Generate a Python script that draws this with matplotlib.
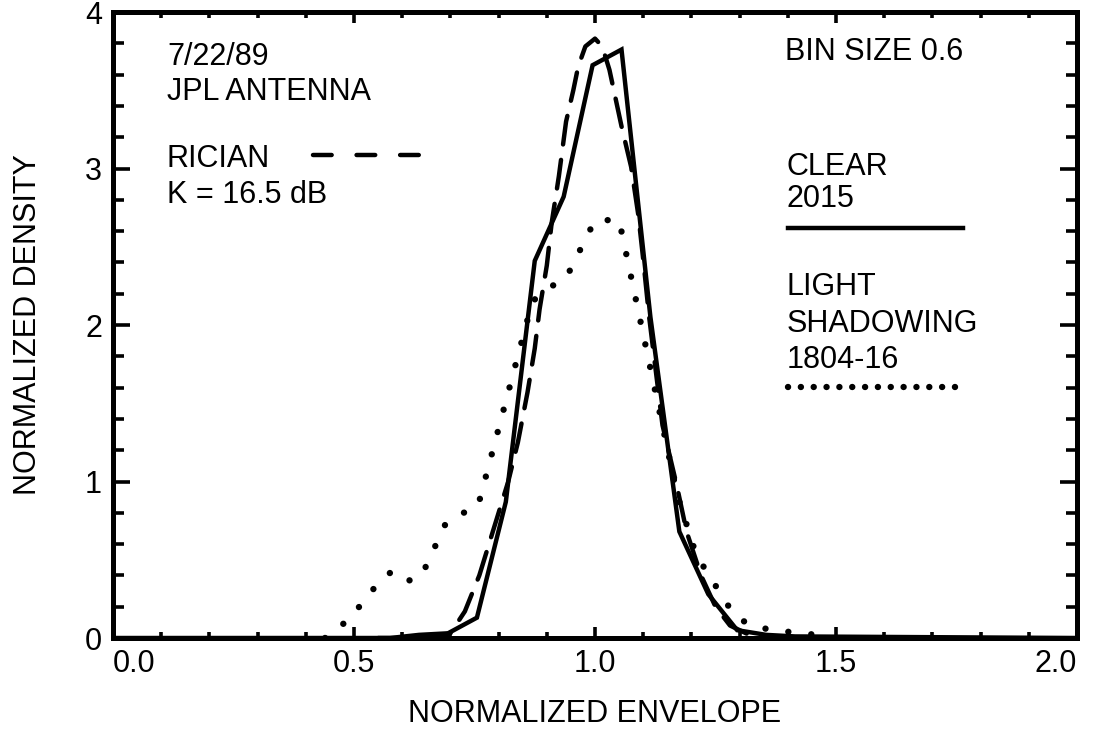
import matplotlib
matplotlib.use('Agg')
import matplotlib.pyplot as plt
from matplotlib.lines import Line2D
from matplotlib.ticker import MultipleLocator

plt.rcParams['font.family'] = ['Liberation Sans', 'DejaVu Sans']

# Measured clear-sky histogram (solid)
clear_x = [0.0, 0.575, 0.635, 0.695, 0.755, 0.815, 0.875, 0.935, 0.995,
           1.055, 1.115, 1.175, 1.235, 1.295, 1.355, 1.415, 2.0]
clear_y = [0.0, 0.0, 0.02, 0.03, 0.13, 0.87, 2.41, 2.82, 3.66,
           3.76, 2.05, 0.68, 0.28, 0.05, 0.02, 0.01, 0.0]

# Rician K = 16.5 dB (dashed)
rice_x = [0.55, 0.65, 0.70, 0.73, 0.76, 0.79, 0.82, 0.84, 0.86, 0.875,
          0.885, 0.90, 0.91, 0.925, 0.94, 0.955, 0.965, 0.98, 1.0, 1.015,
          1.03, 1.055, 1.075, 1.09, 1.10, 1.112, 1.14, 1.17, 1.19, 1.22,
          1.25, 1.28, 1.32, 1.40, 1.50]
rice_y = [0.0, 0.0, 0.03, 0.17, 0.40, 0.70, 1.0, 1.25, 1.57, 1.85,
          2.10, 2.38, 2.65, 2.95, 3.30, 3.50, 3.65, 3.78, 3.83, 3.78,
          3.63, 3.27, 3.01, 2.70, 2.42, 2.06, 1.36, 0.97, 0.68, 0.40,
          0.20, 0.08, 0.02, 0.0, 0.0]

# Light shadowing histogram (dotted)
shadow_x = [0.44, 0.49, 0.55, 0.58, 0.62, 0.645, 0.69, 0.72, 0.757, 0.87,
            0.90, 0.94, 1.0, 1.05, 1.17, 1.21, 1.29, 1.33, 1.40, 1.46]
shadow_y = [0.0, 0.12, 0.35, 0.43, 0.36, 0.43, 0.73, 0.79, 0.84, 2.15,
            2.23, 2.30, 2.67, 2.67, 0.92, 0.53, 0.14, 0.07, 0.04, 0.02]

x_ticks = [0.0, 0.5, 1.0, 1.5, 2.0]
x_ticklabels = ['0.0', '0.5', '1.0', '1.5', '2.0']
y_ticks = [0, 1, 2, 3, 4]

fig = plt.figure(figsize=(10.94, 7.39), dpi=100)
ax = fig.add_axes([113 / 1094, 1 - 638 / 739, 964 / 1094, 626 / 739])

lw = 3.2
dot_lw = 4.6
ax.plot(clear_x, clear_y, color='black', lw=lw, solid_joinstyle='miter')
ax.plot(rice_x, rice_y, color='black', lw=lw, dashes=(6.5, 3.5),
        dash_capstyle='round')
ax.plot(shadow_x, shadow_y, color='black', lw=dot_lw, dashes=(0.01, 3.6),
        dash_capstyle='round')

ax.set_xlim(0, 2)
ax.set_ylim(0, 4)
ax.set_xticks(x_ticks)
ax.set_xticklabels(x_ticklabels)
ax.set_yticks(y_ticks)
ax.xaxis.set_minor_locator(MultipleLocator(0.1))
ax.yaxis.set_minor_locator(MultipleLocator(0.2))
labels = ax.get_xticklabels()
labels[0].set_horizontalalignment('left')
labels[-1].set_horizontalalignment('right')

for s in ax.spines.values():
    s.set_linewidth(3.6)
ax.tick_params(axis='both', which='both', direction='in', top=True,
               right=True, labelsize=22, width=2.6, color='black')
ax.tick_params(axis='x', which='major', length=8, pad=8)
ax.tick_params(axis='x', which='minor', length=4)
ax.tick_params(axis='y', which='major', length=12, pad=8)
ax.tick_params(axis='y', which='minor', length=8)

ax.set_xlabel('NORMALIZED ENVELOPE', fontsize=22, labelpad=14)
ax.set_ylabel('NORMALIZED DENSITY', fontsize=22, labelpad=30)

fs = 22
ax.text(0.056, 0.915, '7/22/89', transform=ax.transAxes, fontsize=fs,
        va='baseline')
ax.text(0.056, 0.859, 'JPL ANTENNA', transform=ax.transAxes, fontsize=fs,
        va='baseline')
ax.text(0.056, 0.752, 'RICIAN', transform=ax.transAxes, fontsize=fs,
        va='baseline')
ax.text(0.056, 0.695, 'K = 16.5 dB', transform=ax.transAxes, fontsize=fs,
        va='baseline')
ax.text(0.697, 0.923, 'BIN SIZE 0.6', transform=ax.transAxes, fontsize=fs,
        va='baseline')
ax.text(0.699, 0.740, 'CLEAR', transform=ax.transAxes, fontsize=fs,
        va='baseline')
ax.text(0.699, 0.689, '2015', transform=ax.transAxes, fontsize=fs,
        va='baseline')
ax.text(0.699, 0.548, 'LIGHT', transform=ax.transAxes, fontsize=fs,
        va='baseline')
ax.text(0.699, 0.489, 'SHADOWING', transform=ax.transAxes, fontsize=fs,
        va='baseline')
ax.text(0.699, 0.431, '1804-16', transform=ax.transAxes, fontsize=fs,
        va='baseline')

# legend samples
ax.add_line(Line2D([0.2075, 0.3205], [0.7716, 0.7716], transform=ax.transAxes,
                   color='black', lw=lw, dashes=(4.2, 5.6),
                   dash_capstyle='round'))
ax.add_line(Line2D([0.700, 0.882], [0.655, 0.655], transform=ax.transAxes,
                   color='black', lw=lw))
ax.add_line(Line2D([0.700, 0.877], [0.401, 0.401], transform=ax.transAxes,
                   color='black', lw=dot_lw, dashes=(0.01, 2.0),
                   dash_capstyle='round'))

fig.savefig('out.png', dpi=100)
